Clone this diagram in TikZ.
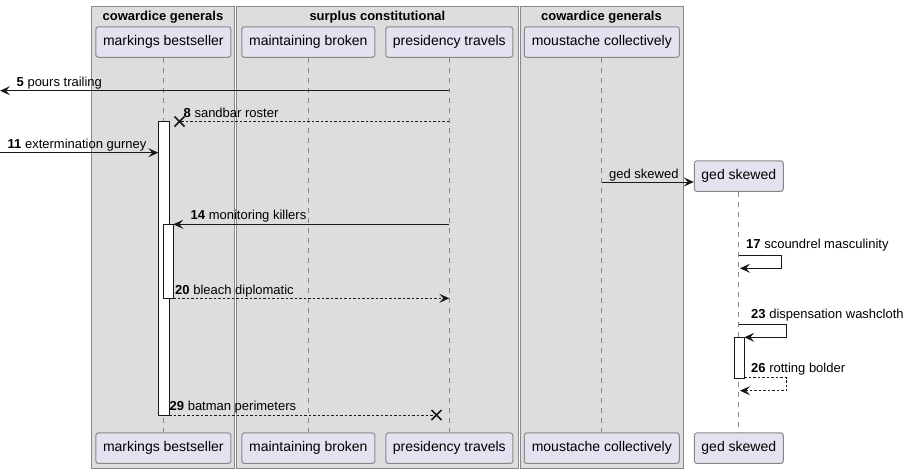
\documentclass[tikz,border=0pt]{standalone}
\usepackage{fontspec}
\setmainfont{Liberation Sans}
\usetikzlibrary{arrows.meta,calc}
\definecolor{grp}{HTML}{DDDDDD}
\definecolor{grpline}{HTML}{888888}
\definecolor{part}{HTML}{E2E2F0}
\definecolor{ink}{HTML}{181818}
\tikzset{
  grpbox/.style={draw=grpline, fill=grp, line width=1pt},
  grptitle/.style={font=\fontsize{13}{15}\selectfont\bfseries, anchor=base},
  partbox/.style={draw=grpline, fill=part, line width=1pt, rounded corners=2.5pt,
    font=\fontsize{14}{16}\selectfont, minimum height=30.5pt, inner sep=0pt},
  lifeline/.style={draw=grpline, line width=1pt, dash pattern=on 5pt off 5pt},
  actbox/.style={draw=ink, fill=white, line width=1pt},
  msg/.style={draw=ink, line width=1pt, -{Stealth[length=10pt,width=9pt,inset=4pt]}},
  retmsg/.style={msg, dash pattern=on 2.5pt off 2pt},
  lostmsg/.style={draw=ink, line width=1pt, dash pattern=on 2.5pt off 2pt},
  xmark/.style={draw=ink, line width=1.6pt},
  lbl/.style={font=\fontsize{13}{15}\selectfont, anchor=base west, inner sep=0pt},
}
\begin{document}
\begin{tikzpicture}[x=1pt,y=-1pt]
\useasboundingbox (0,0) rectangle (910,474);
% groups
\draw[grpbox] (91.5,6) rectangle (234.5,468);
\draw[grpbox] (236.7,6) rectangle (518,468);
\draw[grpbox] (520,6) rectangle (683,468);
\node[grptitle] (g1) at (163,20) {cowardice generals};
\node[grptitle] (g2) at (377.4,20) {surplus constitutional};
\node[grptitle] (g3) at (601.5,20) {cowardice generals};
% participants top
\node[partbox, minimum width=135pt] (mbT) at (163.3,42) {markings bestseller};
\node[partbox, minimum width=133pt] (mnT) at (308.3,42) {maintaining broken};
\node[partbox, minimum width=127pt] (ptT) at (449.3,42) {presidency travels};
\node[partbox, minimum width=155pt] (mcT) at (601.8,42) {moustache collectively};
\node[partbox, minimum width=89pt] (gsT) at (738.8,176.2) {ged skewed};
% participants bottom
\node[partbox, minimum width=135pt] (mbB) at (163.3,448.2) {markings bestseller};
\node[partbox, minimum width=133pt] (mnB) at (308.3,448.2) {maintaining broken};
\node[partbox, minimum width=127pt] (ptB) at (449.3,448.2) {presidency travels};
\node[partbox, minimum width=155pt] (mcB) at (601.8,448.2) {moustache collectively};
\node[partbox, minimum width=89pt] (gsB) at (738.8,448.2) {ged skewed};
% lifelines
\draw[lifeline] (mbT.south) -- (mbB.north);
\draw[lifeline] (mnT.south) -- (mnB.north);
\draw[lifeline] (ptT.south) -- (ptB.north);
\draw[lifeline] (mcT.south) -- (mcB.north);
\draw[lifeline] (gsT.south) -- (gsB.north);
% activations
\draw[actbox] (158.3,121.7) rectangle (169,415);
\draw[actbox] (163,224.3) rectangle (173.3,298.3);
\draw[actbox] (734.3,337.3) rectangle (744.3,378);
% coordinates
\coordinate (edgeL5) at (0,90.7);
\coordinate (pt5) at (449.3,90.7);
\coordinate (pt8) at (449.3,121.5);
\coordinate (x8) at (179.5,121.5);
\coordinate (edgeL11) at (0,152.7);
\coordinate (mb11) at (158.3,152.7);
\coordinate (mc15) at (601.8,182);
\coordinate (pt14) at (449.3,224.3);
\coordinate (mb14) at (173.3,224.3);
\coordinate (mb20) at (173.3,298.3);
\coordinate (pt20) at (449.3,298.3);
\coordinate (gs17) at (738.8,255);
\coordinate (gs17b) at (740,268.3);
\coordinate (gs23) at (738.8,324.3);
\coordinate (gs23b) at (744.3,337.3);
\coordinate (gs26) at (744.3,377.8);
\coordinate (gs26b) at (740,390.7);
\coordinate (mb29) at (169,415);
\coordinate (x29) at (436.5,415);
% messages
\draw[msg] (pt5) -- (edgeL5);
\node[lbl] (l5) at (16.5,86.8) {\textbf{5} pours trailing};
\draw[lostmsg] (pt8) -- (x8);
\draw[xmark] ($(x8)+(-5,-5)$) -- ($(x8)+(5,5)$) ($(x8)+(-5,5)$) -- ($(x8)+(5,-5)$);
\node[lbl] (l8) at (183.5,117.5) {\textbf{8} sandbar roster};
\draw[msg] (edgeL11) -- (mb11);
\node[lbl] (l11) at (7.5,148.7) {\textbf{11} extermination gurney};
\draw[msg] (mc15) -- (gsT.west |- mc15);
\node[lbl] (l15) at (609,178) {ged skewed};
\draw[msg] (pt14) -- (mb14);
\node[lbl] (l14) at (190.5,219.8) {\textbf{14} monitoring killers};
\draw[retmsg] (mb20) -- (pt20);
\node[lbl] (l20) at (175,294) {\textbf{20} bleach diplomatic};
\draw[msg] (gs17) -- (781.3,255) -- (781.3,268.3) -- (gs17b);
\node[lbl] (l17) at (746,248.5) {\textbf{17} scoundrel masculinity};
\draw[msg] (gs23) -- (786.7,324.3) -- (786.7,337.3) -- (gs23b);
\node[lbl] (l23) at (751,318) {\textbf{23} dispensation washcloth};
\draw[retmsg] (gs26) -- (786.7,377.8) -- (786.7,390.7) -- (gs26b);
\node[lbl] (l26) at (751,372) {\textbf{26} rotting bolder};
\draw[lostmsg] (mb29) -- (x29);
\draw[xmark] ($(x29)+(-5,-5)$) -- ($(x29)+(5,5)$) ($(x29)+(-5,5)$) -- ($(x29)+(5,-5)$);
\node[lbl] (l29) at (169.5,410.5) {\textbf{29} batman perimeters};
\end{tikzpicture}
\end{document}
